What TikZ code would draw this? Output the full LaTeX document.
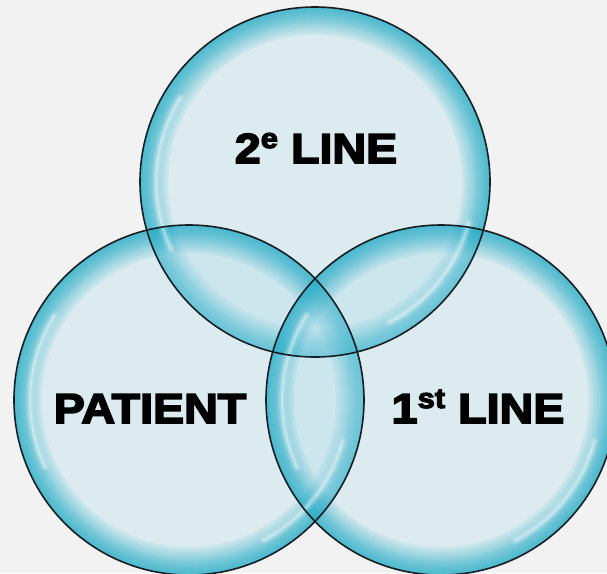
\documentclass[tikz,border=0pt]{standalone}
\usepackage{fontspec}
\newfontfamily\lblfont{Liberation Sans}[FakeBold=4, FakeStretch=1.11]
\definecolor{bg}{RGB}{242,242,242}
\definecolor{bubin}{RGB}{169,219,235}
\definecolor{bubrim}{RGB}{30,172,200}
\definecolor{bubline}{RGB}{20,30,35}
\newcommand\supx[1]{\raisebox{15pt}{\fontsize{28pt}{28pt}\selectfont #1}}
\tikzset{
  bubfill/.style={fill=bubin, fill opacity=0.3},
  bubring/.style={fill=bubrim, fill opacity=0.085, even odd rule},
  bubedge/.style={draw=bubline, line width=1.6pt},
  hlwide/.style={draw=white, line width=9pt, draw opacity=0.12, line cap=round},
  hlmid/.style={draw=white, line width=5pt, draw opacity=0.18, line cap=round},
  hlthin/.style={draw=white, line width=2pt, draw opacity=0.3, line cap=round},
  lbl/.style={font=\lblfont\bfseries\fontsize{42pt}{42pt}\selectfont, text=black, inner sep=0pt, anchor=base}
}
\begin{document}
\begin{tikzpicture}[x=1pt,y=-1pt]
\fill[bg] (0,0) rectangle (607,573);
\useasboundingbox (0,0) rectangle (607,573);
\coordinate (T) at (315,182);
\coordinate (L) at (189,400);
\coordinate (R) at (441,400);
\begin{scope}
\clip (0,0) rectangle (607,573);
\foreach \c in {T,L,R} {
  \fill[bubfill] (\c) circle (175pt);
  \foreach \f in {0.84,0.855,0.87,0.885,0.90,0.91,0.92,0.93,0.94,0.95,0.96,0.97,0.98,0.99}
    \fill[bubring] (\c) circle (175pt) (\c) circle (\f*175pt);
}
\foreach \c in {T,L,R} {
  \foreach \s in {hlwide,hlmid,hlthin} {
    \draw[\s] ([shift={(148:159pt)}]\c) arc[start angle=148, end angle=205, radius=159pt];
    \draw[\s] ([shift={(-62:159pt)}]\c) arc[start angle=-62, end angle=-15, radius=159pt];
  }
}
\foreach \c in {T,L,R}
  \draw[bubedge] (\c) circle (175pt);
\end{scope}
\node[lbl] (second) at (316,163) {2\supx{e} LINE};
\node[lbl] (patient) at (150,423) {PATIENT};
\node[lbl] (first) at (478,423) {1\supx{st} LINE};
\end{tikzpicture}
\end{document}
